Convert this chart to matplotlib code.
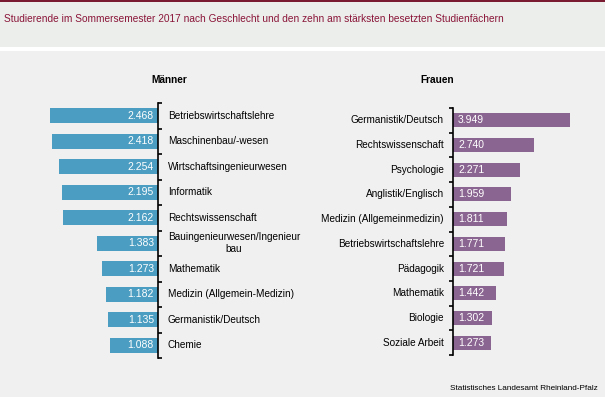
import matplotlib
matplotlib.use("Agg")
import matplotlib.pyplot as plt
from matplotlib.patches import Rectangle

plt.rcParams['font.family'] = ['Liberation Sans', 'DejaVu Sans']

# Daten
maenner_faecher = ["Betriebswirtschaftslehre", "Maschinenbau/-wesen", "Wirtschaftsingenieurwesen",
                   "Informatik", "Rechtswissenschaft", "Bauingenieurwesen/Ingenieur\nbau",
                   "Mathematik", "Medizin (Allgemein-Medizin)", "Germanistik/Deutsch", "Chemie"]
maenner_werte = [2468, 2418, 2254, 2195, 2162, 1383, 1273, 1182, 1135, 1088]

frauen_faecher = ["Germanistik/Deutsch", "Rechtswissenschaft", "Psychologie", "Anglistik/Englisch",
                  "Medizin (Allgemeinmedizin)", "Betriebswirtschaftslehre", "Pädagogik",
                  "Mathematik", "Biologie", "Soziale Arbeit"]
frauen_werte = [3949, 2740, 2271, 1959, 1811, 1771, 1721, 1442, 1302, 1273]

titel = "Studierende im Sommersemester 2017 nach Geschlecht und den zehn am stärksten besetzten Studienfächern"
quelle = "Statistisches Landesamt Rheinland-Pfalz"

blau = "#4b9dc1"
lila = "#8b6591"
W, H = 605, 397
fs = 7.2


def fmt(v):
    return f"{v:,}".replace(",", ".")


def px_axes(fig, x0, y0, x1, y1):
    # pixel coords (top-left origin) -> figure fraction
    return fig.add_axes([x0 / W, 1 - y1 / H, (x1 - x0) / W, (y1 - y0) / H])


fig = plt.figure(figsize=(W / 100, H / 100), dpi=100, facecolor="#eff0ef")
fig.patches.append(Rectangle((0, 1 - 47 / H), 1, 45 / H, transform=fig.transFigure,
                             facecolor="#eceeec", edgecolor="none", zorder=0))
fig.patches.append(Rectangle((0, 1 - 50.5 / H), 1, 3.5 / H, transform=fig.transFigure,
                             facecolor="white", edgecolor="none", zorder=0))
fig.patches.append(Rectangle((0, 1 - 2 / H), 1, 2 / H, transform=fig.transFigure,
                             facecolor="#7a1b31", edgecolor="none", zorder=0))
fig.text(4 / W, 1 - 19 / H, titel, color="#8a1538", fontsize=7.3, va="center", ha="left")

# Männer (links)
ax1 = px_axes(fig, 40, 103, 158, 358)
y = range(len(maenner_werte))
ax1.barh(y, maenner_werte, height=0.59, color=blau)
ax1.set_xlim(118 / 0.04376, 0)
ax1.set_ylim(len(maenner_werte) - 0.5, -0.5)
for i, (v, name) in enumerate(zip(maenner_werte, maenner_faecher)):
    ax1.annotate(fmt(v), (0, i), xytext=(-3, 0), textcoords="offset points", color="white",
                 ha="right", va="center", fontsize=7.5)
    ax1.annotate(name, (0, i), xytext=(7, 0), textcoords="offset points", ha="left",
                 va="center", fontsize=fs, multialignment="center", annotation_clip=False)

# Frauen (rechts)
ax2 = px_axes(fig, 453, 108, 600, 355)
y2 = range(len(frauen_werte))
ax2.barh(y2, frauen_werte, height=0.57, color=lila)
ax2.set_xlim(0, 147 / 0.0296)
ax2.set_ylim(len(frauen_werte) - 0.5, -0.5)
for i, (v, name) in enumerate(zip(frauen_werte, frauen_faecher)):
    ax2.annotate(fmt(v), (0, i), xytext=(3.7, 0), textcoords="offset points", color="white",
                 ha="left", va="center", fontsize=7.5)
    ax2.annotate(name, (0, i), xytext=(-6.5, 0), textcoords="offset points", ha="right",
                 va="center", fontsize=fs, annotation_clip=False)

for ax, side in ((ax1, "right"), (ax2, "left")):
    ax.set_facecolor("none")
    for s in ax.spines.values():
        s.set_visible(False)
    ax.spines[side].set_visible(True)
    ax.spines[side].set_linewidth(1.2)
    ax.set_xticks([])
    n = len(ax.patches)
    ax.set_yticks([k - 0.5 for k in range(n + 1)])
    ax.set_yticklabels([])
    ax.yaxis.set_ticks_position(side)
    ax.tick_params(axis="y", direction="out", length=3, width=1.2)

fig.text(169 / W, 1 - 80 / H, "Männer", fontsize=7.3, fontweight="bold", ha="center", va="center")
fig.text(437 / W, 1 - 80 / H, "Frauen", fontsize=7.3, fontweight="bold", ha="center", va="center")
fig.text(598 / W, 1 - 388 / H, quelle, fontsize=5.9, ha="right", va="center")

fig.savefig("out.png", dpi=100, facecolor=fig.get_facecolor())
